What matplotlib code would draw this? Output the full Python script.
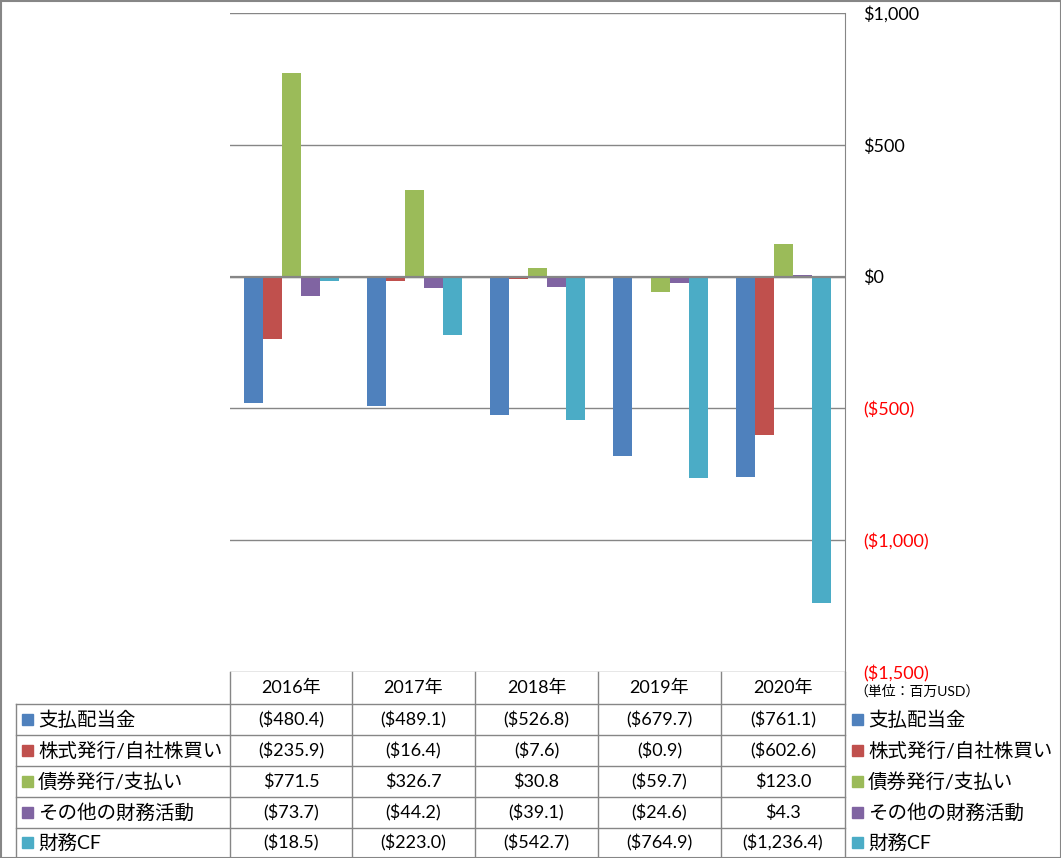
"""Financing cash flow breakdown (bar chart with Excel-style data table)."""

import matplotlib

matplotlib.use("Agg")
import matplotlib.pyplot as plt  # noqa: E402

plt.rcParams["font.family"] = ["Lato", "Noto Sans CJK JP", "DejaVu Sans"]

years = ["2016年", "2017年", "2018年", "2019年", "2020年"]
series_names = ["支払配当金", "株式発行/自社株買い", "債券発行/支払い", "その他の財務活動", "財務CF"]
dividends = [-480.4, -489.1, -526.8, -679.7, -761.1]
stock_issuance = [-235.9, -16.4, -7.6, -0.9, -602.6]
bond_issuance = [771.5, 326.7, 30.8, -59.7, 123.0]
other_financing = [-73.7, -44.2, -39.1, -24.6, 4.3]
financing_cf = [-18.5, -223.0, -542.7, -764.9, -1236.4]
y_ticks = [1000, 500, 0, -500, -1000, -1500]
unit_label = "（単位：百万USD）"

series_values = [dividends, stock_issuance, bond_issuance, other_financing, financing_cf]
colors = ["#4F81BD", "#C0504D", "#9BBB59", "#8064A2", "#4BACC6"]
GRID = "#868686"

W, H = 1061, 858


def money(v):
    s = f"${abs(v):,.1f}"
    return f"({s})" if v < 0 else s


def tick_money(v):
    s = f"${abs(v):,.0f}"
    return f"({s})" if v < 0 else s


fig = plt.figure(figsize=(W / 100, H / 100), dpi=100)

# plot area in pixel coordinates
px_left, px_right, px_top, px_bottom = 230, 845, 13, 672
ax = fig.add_axes([px_left / W, 1 - px_bottom / H, (px_right - px_left) / W, (px_bottom - px_top) / H])

n = len(series_values)
bar_w = 19 / 123
for i, (vals, col) in enumerate(zip(series_values, colors)):
    xs = [j + (i - (n - 1) / 2) * bar_w for j in range(len(years))]
    ax.bar(xs, vals, width=bar_w, color=col, zorder=3)

ax.set_xlim(-0.5, len(years) - 0.5)
ax.set_ylim(min(y_ticks), max(y_ticks))
ax.set_yticks(y_ticks)
ax.set_yticklabels([tick_money(t) for t in y_ticks])
ax.yaxis.tick_right()
ax.tick_params(axis="y", length=0, pad=13, labelsize=13)
for tick, t in zip(ax.yaxis.get_major_ticks(), y_ticks):
    tick.label2.set_color("#FF0000" if t < 0 else "black")
ax.set_xticks([])
ax.grid(axis="y", color=GRID, linewidth=1.0, zorder=1)
for side in ("top", "left", "bottom"):
    ax.spines[side].set_visible(False)
ax.spines["right"].set_color(GRID)
ax.axhline(0, color=GRID, linewidth=1.6, zorder=4)

# overlay for the data table, legend and border (pixel coords)
tab = fig.add_axes([0, 0, 1, 1])
tab.set_xlim(0, W)
tab.set_ylim(H, 0)
tab.axis("off")
tab.patch.set_alpha(0)

col_edges = [230, 352, 475, 598, 721, 845]
row_edges = [704, 735, 766, 797, 828, 858]
header_y = (672 + 704) / 2
lw = 1.0

for x in col_edges[:-1]:
    tab.plot([x, x], [px_bottom, H], color=GRID, lw=lw)
tab.plot([845, 845], [px_bottom, H], color=GRID, lw=lw)
tab.plot([16, 16], [row_edges[0], H], color=GRID, lw=lw)
for y in row_edges[:-1]:
    tab.plot([16, 845], [y, y], color=GRID, lw=lw)

# outer border
tab.plot([0.5, W - 0.5, W - 0.5, 0.5, 0.5], [0.5, 0.5, H - 0.5, H - 0.5, 0.5], color=GRID, lw=1.5)

for j, yr in enumerate(years):
    cx = (col_edges[j] + col_edges[j + 1]) / 2
    tab.text(cx, header_y, yr, ha="center", va="center", fontsize=13)

for i, (name, vals, col) in enumerate(zip(series_names, series_values, colors)):
    cy = (row_edges[i] + row_edges[i + 1]) / 2
    tab.add_patch(plt.Rectangle((22, cy - 6), 11, 11, color=col))
    tab.text(38, cy, name, ha="left", va="center", fontsize=14)
    for j, v in enumerate(vals):
        cx = (col_edges[j] + col_edges[j + 1]) / 2
        tab.text(cx, cy, money(v), ha="center", va="center", fontsize=13)
    tab.add_patch(plt.Rectangle((852, cy - 6), 11, 11, color=col))
    tab.text(868, cy, name, ha="left", va="center", fontsize=14)

tab.text(854, 691, unit_label, ha="left", va="center", fontsize=10)

fig.savefig("out.png", dpi=100)
